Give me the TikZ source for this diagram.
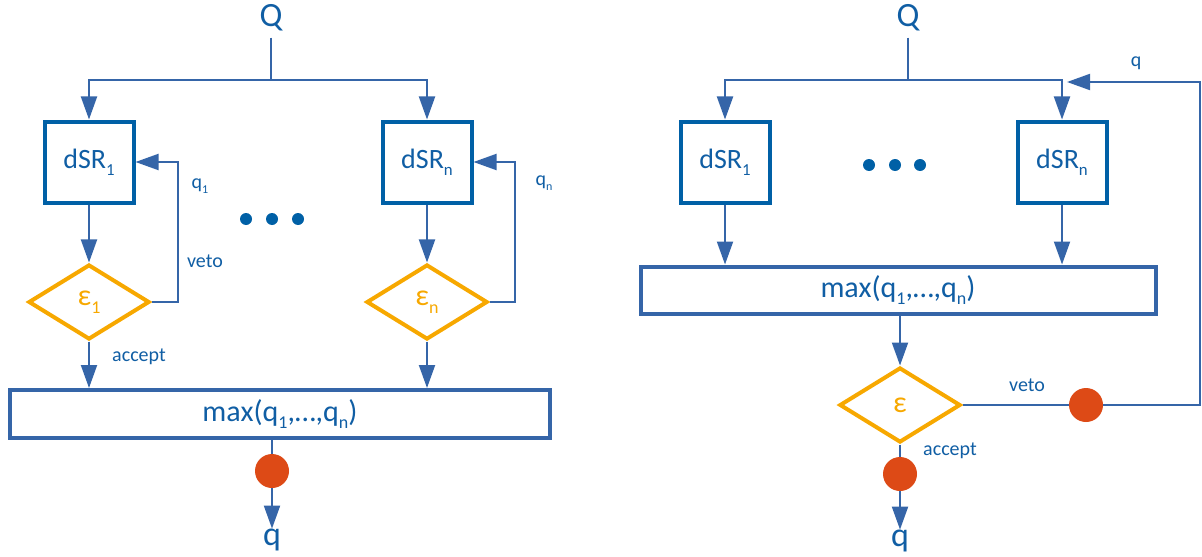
\documentclass[tikz,border=0pt]{standalone}
\usepackage{fontspec}
\setmainfont{Carlito}
\usetikzlibrary{shapes.geometric,arrows.meta}
\definecolor{lineblue}{RGB}{53,101,168}
\definecolor{boxblue}{RGB}{0,96,166}
\definecolor{txtblue}{RGB}{16,94,164}
\definecolor{accorange}{RGB}{247,168,0}
\definecolor{accred}{RGB}{221,74,22}
\newcommand{\lowsub}[1]{\raisebox{-0.55ex}{\scalebox{0.6}{#1}}}
\tikzset{
 arr/.style={-{Triangle[length=11.5pt,width=8pt]}},
 conn/.style={draw=lineblue,line width=1pt},
 dsr/.style={draw=boxblue,line width=2pt,minimum width=44.5pt,minimum height=40.5pt,inner sep=0pt,text=txtblue,font=\fontsize{14}{16}\selectfont},
 eps/.style={diamond,draw=accorange,line width=2pt,minimum width=60.5pt,minimum height=37.5pt,inner sep=0pt,text=accorange,font=\fontsize{15}{17}\selectfont},
 maxbox/.style={draw=lineblue,line width=2pt,inner sep=0pt,text=txtblue,font=\fontsize{15}{17}\selectfont},
 lbl/.style={text=txtblue,font=\fontsize{10}{12}\selectfont,inner sep=0pt},
 qlabel/.style={text=txtblue,font=\fontsize{17}{20}\selectfont,inner sep=0pt},
 redball/.style={circle,fill=accred,minimum size=17pt,inner sep=0pt},
 moredot/.style={circle,fill=boxblue,minimum size=6pt,inner sep=0pt},
}
\begin{document}
\begin{tikzpicture}[x=0.5pt,y=-0.5pt]
 \useasboundingbox (0,0) rectangle (1202,556);

 \node[qlabel,inner sep=3pt] (Q) at (271,18) {Q};
 \coordinate (J) at (271,80);
 \node[dsr] (D1) at (89,162) {dSR\lowsub{1}};
 \node[dsr] (Dn) at (427,162) {dSR\lowsub{n}};
 \node[eps] (E1) at (89,302) {ε\lowsub{1}};
 \node[eps] (En) at (427,302) {ε\lowsub{n}};
 \node[maxbox,minimum width=270pt,minimum height=24pt] (M) at (280,414) {max(q\lowsub{1},…,q\lowsub{n})};
 \node[redball] (R) at (272,471) {};
 \node[qlabel] (q) at (272,540) {q};
 \node[lbl] (l1) at (200,186) {q\lowsub{1}};
 \node[lbl] (ln) at (544,183) {q\lowsub{n}};
 \node[lbl] (v1) at (205,261) {veto};
 \node[lbl] (a1) at (139,357) {accept};
 \node[moredot] (p1) at (246,219) {};
 \node[moredot] (p2) at (272,219) {};
 \node[moredot] (p3) at (298,219) {};
 \draw[conn] (Q) -- (J);
 \draw[conn,arr] (J) -| (D1.north);
 \draw[conn,arr] (J) -| (Dn.north);
 \draw[conn,arr] (D1) -- (E1);
 \draw[conn,arr] (Dn) -- (En);
 \draw[conn,arr] (E1.east) -- ++(26,0) |- (D1.east);
 \draw[conn,arr] (En.east) -- ++(25,0) |- (Dn.east);
 \draw[conn,arr] (E1) -- (E1 |- M.north);
 \draw[conn,arr] (En) -- (En |- M.north);
 \draw[conn] (M.south -| R) -- (R);
 \draw[conn,arr] (R) -- (q);

 \node[qlabel,inner sep=3pt] (Q2) at (908,18) {Q};
 \coordinate (J2) at (908,80);
 \node[dsr] (D21) at (725,162) {dSR\lowsub{1}};
 \node[dsr] (D2n) at (1062,162) {dSR\lowsub{n}};
 \node[moredot] (p21) at (869,165) {};
 \node[moredot] (p22) at (895,165) {};
 \node[moredot] (p23) at (920,165) {};
 \node[maxbox,minimum width=257.5pt,minimum height=23.5pt] (M2) at (898,290) {max(q\lowsub{1},…,q\lowsub{n})};
 \node[eps] (E2) at (900,405) {ε};
 \node[redball] (R2) at (1086,405) {};
 \node[redball] (R3) at (900,474) {};
 \node[qlabel] (q2) at (900,541) {q};
 \node[lbl] (l2) at (1136,63) {q};
 \node[lbl] (v2) at (1027,385) {veto};
 \node[lbl] (a2) at (950,451) {accept};
 \coordinate (C2) at (1200,405);
 \coordinate (F2) at (1067,82);
 \draw[conn] (Q2) -- (J2);
 \draw[conn,arr] (J2) -| (D21.north);
 \draw[conn,arr] (J2) -| (D2n.north);
 \draw[conn,arr] (D21) -- (D21 |- M2.north);
 \draw[conn,arr] (D2n) -- (D2n |- M2.north);
 \draw[conn,arr] (M2.south -| E2) -- (E2);
 \draw[conn] (E2.east) -- (R2);
 \draw[conn,arr] (R2) -- (C2) |- (F2);
 \draw[conn] (E2) -- (R3);
 \draw[conn,arr] (R3) -- (q2);
\end{tikzpicture}
\end{document}
